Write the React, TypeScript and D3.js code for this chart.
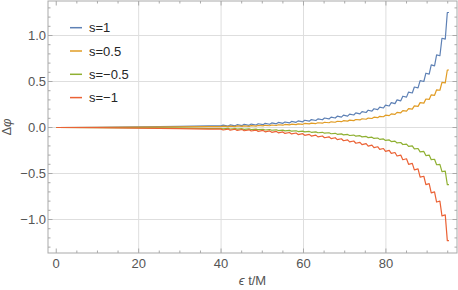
import React from 'react'
import * as d3 from 'd3'

// chart size (the page is photographed at 458x290)
const W = 458
const H = 290

// tick labels
const xTickValues = [0, 20, 40, 60, 80]
const yTickValues = [-1.0, -0.5, 0.0, 0.5, 1.0]

// series names + colours (Mathematica default palette)
const seriesNames = ['s=1', 's=0.5', 's=\u22120.5', 's=\u22121']
const seriesColors = ['#5e81b5', '#e19c24', '#8fb032', '#eb6235']

// early, almost flat part of the curves
const leadT = [0, 10, 20, 30, 37]
const leadS1 = [0, 0.002, 0.007, 0.013, 0.018]
const leadS05 = [0, 0.001, 0.004, 0.007, 0.01]
const leadSm05 = [0, -0.001, -0.004, -0.007, -0.011]
const leadSm1 = [0, -0.002, -0.007, -0.013, -0.018]

// times where each "step" of the staircase starts
const stepT = [
  40.0, 41.7, 43.4, 45.1, 46.8, 48.5, 50.2, 51.8, 53.4, 55.0, 56.6, 58.2, 59.8,
  61.4, 63.0, 64.6, 66.2, 67.7, 69.2, 70.7, 72.2, 73.7, 75.2, 76.6, 78.0, 79.4,
  80.8, 82.2, 83.6, 85.0, 86.4, 87.8, 89.2, 90.5, 91.8, 93.1, 94.4,
]
const endT = 95.3

// value just before each step (lo) and just after it (hi)
const s1Lo = [
  0.018, 0.016, 0.018, 0.021, 0.024, 0.027, 0.031, 0.035, 0.04, 0.045, 0.05,
  0.056, 0.062, 0.069, 0.076, 0.084, 0.093, 0.103, 0.113, 0.124, 0.136, 0.149,
  0.163, 0.178, 0.194, 0.212, 0.234, 0.26, 0.29, 0.33, 0.375, 0.43, 0.5, 0.58,
  0.67, 0.78, 0.96,
]
const s1Hi = [
  0.026, 0.028, 0.031, 0.034, 0.037, 0.041, 0.045, 0.05, 0.055, 0.06, 0.066,
  0.072, 0.079, 0.086, 0.094, 0.103, 0.113, 0.123, 0.134, 0.146, 0.159, 0.173,
  0.188, 0.204, 0.222, 0.244, 0.27, 0.3, 0.34, 0.385, 0.44, 0.51, 0.59, 0.68,
  0.79, 0.97, 1.25,
]
const s05Lo = [
  0.01, 0.009, 0.01, 0.012, 0.013, 0.015, 0.017, 0.019, 0.022, 0.025, 0.028,
  0.031, 0.035, 0.039, 0.043, 0.047, 0.052, 0.057, 0.063, 0.069, 0.075, 0.082,
  0.09, 0.098, 0.107, 0.117, 0.129, 0.143, 0.16, 0.178, 0.2, 0.23, 0.265, 0.305,
  0.35, 0.405, 0.485,
]
const s05Hi = [
  0.014, 0.015, 0.017, 0.018, 0.02, 0.022, 0.024, 0.027, 0.03, 0.033, 0.036,
  0.04, 0.044, 0.048, 0.052, 0.057, 0.062, 0.068, 0.074, 0.08, 0.087, 0.095,
  0.103, 0.112, 0.122, 0.134, 0.148, 0.165, 0.183, 0.205, 0.235, 0.27, 0.31,
  0.355, 0.41, 0.49, 0.625,
]
const sm05Lo = [
  -0.011, -0.01, -0.011, -0.013, -0.015, -0.017, -0.019, -0.022, -0.025, -0.028,
  -0.031, -0.035, -0.039, -0.043, -0.047, -0.052, -0.057, -0.063, -0.069,
  -0.075, -0.082, -0.089, -0.097, -0.105, -0.114, -0.124, -0.135, -0.148, -0.163,
  -0.18, -0.2, -0.228, -0.26, -0.3, -0.345, -0.4, -0.475,
]
const sm05Hi = [
  -0.015, -0.016, -0.018, -0.02, -0.022, -0.024, -0.027, -0.03, -0.033, -0.036,
  -0.04, -0.044, -0.048, -0.052, -0.057, -0.062, -0.068, -0.074, -0.08, -0.087,
  -0.094, -0.102, -0.11, -0.119, -0.129, -0.14, -0.153, -0.168, -0.185, -0.205,
  -0.233, -0.265, -0.305, -0.35, -0.405, -0.48, -0.62,
]
const sm1Lo = [
  -0.018, -0.017, -0.019, -0.022, -0.025, -0.028, -0.032, -0.037, -0.042,
  -0.048, -0.054, -0.06, -0.067, -0.075, -0.083, -0.092, -0.101, -0.111, -0.122,
  -0.134, -0.147, -0.161, -0.176, -0.192, -0.209, -0.228, -0.249, -0.272, -0.3,
  -0.34, -0.39, -0.45, -0.53, -0.61, -0.7, -0.8, -0.95,
]
const sm1Hi = [
  -0.027, -0.029, -0.032, -0.035, -0.038, -0.042, -0.047, -0.052, -0.058,
  -0.064, -0.07, -0.077, -0.085, -0.093, -0.102, -0.111, -0.121, -0.132, -0.144,
  -0.157, -0.171, -0.186, -0.202, -0.219, -0.238, -0.259, -0.282, -0.31, -0.35,
  -0.4, -0.46, -0.54, -0.62, -0.71, -0.81, -0.96, -1.23,
]

const leads = [leadS1, leadS05, leadSm05, leadSm1]
const los = [s1Lo, s05Lo, sm05Lo, sm1Lo]
const his = [s1Hi, s05Hi, sm05Hi, sm1Hi]

// how long (in t) each riser of the staircase takes
const RISE = 0.5

const FONT = '"Liberation Sans", Arial, sans-serif'

// frame edges
const frame = { left: 48, right: 457, top: 1, bottom: 253 }

const fmt = (v: number) => d3.format('.1f')(v).replace('-', '\u2212')

// put together the [t, value] points of one curve
const buildPoints = (i: number): [number, number][] => {
  const pts: [number, number][] = leadT.map((t, j) => [t, leads[i][j]])
  stepT.forEach((t, k) => {
    pts.push([t, los[i][k]])
    pts.push([t + RISE, his[i][k]])
  })
  pts.push([endT, his[i][his[i].length - 1]])
  return pts
}

const App = () => {
  const x = d3.scaleLinear().domain([-2, 97.25]).range([frame.left, frame.right])
  const y = d3.scaleLinear().domain([-1.364, 1.375]).range([frame.bottom, frame.top])

  const line = d3
    .line<[number, number]>()
    .x((d) => x(d[0]))
    .y((d) => y(d[1]))

  const xMinor = x.ticks(20).filter((v) => v >= 0)
  const yMinor = y.ticks(30)

  const axisColor = '#a9a9a9'
  const gridColor = '#dedede'
  const labelColor = '#555'

  return (
    <svg
      width={W}
      height={H}
      style={{ position: 'absolute', left: 0, top: 0, background: '#fff' }}
      fontFamily={FONT}
    >
      {/* grid */}
      {xTickValues
        .filter((v) => v !== 0)
        .map((v) => (
          <line key={`gx${v}`} x1={x(v)} x2={x(v)} y1={frame.top} y2={frame.bottom} stroke={gridColor} strokeWidth={1} />
        ))}
      {yTickValues.map((v) => (
        <line key={`gy${v}`} x1={frame.left} x2={frame.right} y1={y(v)} y2={y(v)} stroke={gridColor} strokeWidth={1} />
      ))}

      {/* curves */}
      {seriesNames.map((name, i) => (
        <path key={name} d={line(buildPoints(i)) || ''} fill="none" stroke={seriesColors[i]} strokeWidth={1.2} strokeLinejoin="round" />
      ))}

      {/* frame */}
      <rect
        x={frame.left}
        y={frame.top}
        width={frame.right - frame.left}
        height={frame.bottom - frame.top}
        fill="none"
        stroke={axisColor}
        strokeWidth={1}
      />

      {/* ticks pointing inward on all four sides */}
      {xMinor.map((v) => {
        const major = xTickValues.includes(v)
        const len = major ? 4.5 : 2.5
        return (
          <g key={`tx${v}`} stroke={axisColor} strokeWidth={1}>
            <line x1={x(v)} x2={x(v)} y1={frame.bottom} y2={frame.bottom - len} />
            <line x1={x(v)} x2={x(v)} y1={frame.top} y2={frame.top + len} />
          </g>
        )
      })}
      {yMinor.map((v) => {
        const major = yTickValues.some((t) => Math.abs(t - v) < 1e-6)
        const len = major ? 4.5 : 2.5
        return (
          <g key={`ty${v}`} stroke={axisColor} strokeWidth={1}>
            <line x1={frame.left} x2={frame.left + len} y1={y(v)} y2={y(v)} />
            <line x1={frame.right} x2={frame.right - len} y1={y(v)} y2={y(v)} />
          </g>
        )
      })}

      {/* tick labels */}
      {xTickValues.map((v) => (
        <text key={`lx${v}`} x={x(v)} y={267.5} textAnchor="middle" fontSize={13} fill={labelColor}>
          {v}
        </text>
      ))}
      {yTickValues.map((v) => (
        <text key={`ly${v}`} x={46} y={y(v)} dy="0.35em" textAnchor="end" fontSize={13} fill={labelColor}>
          {fmt(v)}
        </text>
      ))}

      {/* axis labels */}
      <text x={(frame.left + frame.right) / 2} y={285} textAnchor="middle" fontSize={13} fill={labelColor}>
        <tspan fontStyle="italic">{'\u03f5'}</tspan> t/M
      </text>
      <text
        transform={`translate(11 ${(frame.top + frame.bottom) / 2}) rotate(-90)`}
        textAnchor="middle"
        fontSize={13}
        fill={labelColor}
      >
        {'\u0394'}
        <tspan fontStyle="italic">{'\u03c6'}</tspan>
      </text>

      {/* legend */}
      {seriesNames.map((name, i) => {
        const ly = 27.7 + i * 23.3
        return (
          <g key={`leg${name}`}>
            <line x1={70} x2={82} y1={ly} y2={ly} stroke={seriesColors[i]} strokeWidth={1.5} />
            <text x={89} y={ly} dy="0.35em" fontSize={13} fill="#262626">
              {name}
            </text>
          </g>
        )
      })}
    </svg>
  )
}

export default App
